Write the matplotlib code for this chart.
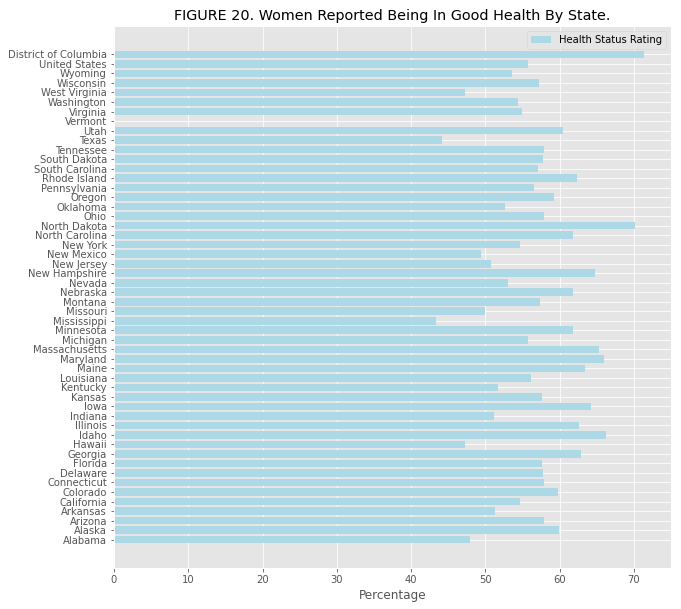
import matplotlib
matplotlib.use('Agg')
import matplotlib.pyplot as plt
import numpy as np

plt.style.use('ggplot')

# states, bottom to top as drawn
states = ['Alabama', 'Alaska', 'Arizona', 'Arkansas', 'California', 'Colorado',
          'Connecticut', 'Delaware', 'Florida', 'Georgia', 'Hawaii', 'Idaho',
          'Illinois', 'Indiana', 'Iowa', 'Kansas', 'Kentucky', 'Louisiana',
          'Maine', 'Maryland', 'Massachusetts', 'Michigan', 'Minnesota',
          'Mississippi', 'Missouri', 'Montana', 'Nebraska', 'Nevada',
          'New Hampshire', 'New Jersey', 'New Mexico', 'New York',
          'North Carolina', 'North Dakota', 'Ohio', 'Oklahoma', 'Oregon',
          'Pennsylvania', 'Rhode Island', 'South Carolina', 'South Dakota',
          'Tennessee', 'Texas', 'Utah', 'Vermont', 'Virginia', 'Washington',
          'West Virginia', 'Wisconsin', 'Wyoming', 'United States',
          'District of Columbia']

# percentage reporting good health (Vermont has no value)
health = [48.0, 59.9, 57.9, 51.3, 54.7, 59.8,
          57.9, 57.8, 57.6, 62.9, 47.2, 66.3,
          62.6, 51.2, 64.2, 57.6, 51.7, 56.2,
          63.4, 66.0, 65.3, 55.7, 61.8,
          43.4, 50.0, 57.4, 61.8, 53.1,
          64.8, 50.8, 49.4, 54.7,
          61.8, 70.1, 57.9, 52.6, 59.2,
          56.6, 62.4, 57.1, 57.8,
          57.9, 44.2, 60.5, 0.0, 55.0, 54.4,
          47.3, 57.2, 53.6, 55.8,
          71.4]

fig, ax = plt.subplots(figsize=(681/72, 609/72), dpi=72)
fig.subplots_adjust(left=0.1674, right=0.9853, top=0.9573, bottom=0.0673)

y = np.arange(len(states))
ax.barh(y, health, color='lightblue', label='Health Status Rating')
ax.set_yticks(y)
ax.set_yticklabels(states)
ax.set_xlim(0, 75)
ax.set_xlabel('Percentage')
ax.set_title('FIGURE 20. Women Reported Being In Good Health By State.', color='black')
ax.legend(loc='upper right')

fig.savefig('out.png', dpi=72)
